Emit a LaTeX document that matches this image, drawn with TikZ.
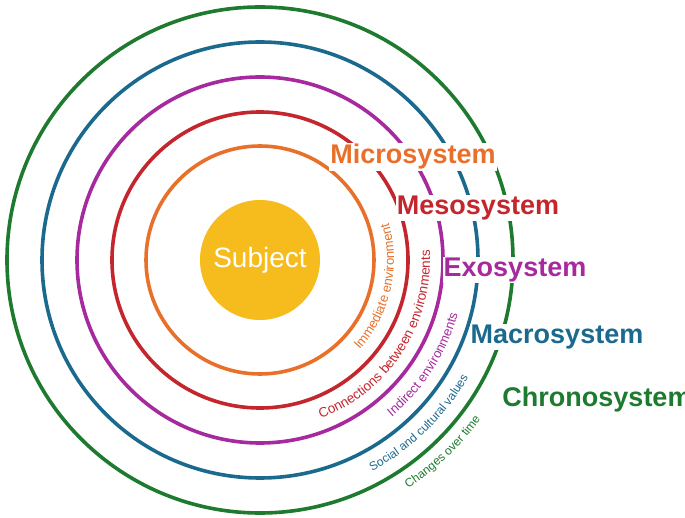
\documentclass[tikz,border=0pt]{standalone}
\usepackage{fontspec}
\setmainfont{Liberation Sans}
\setsansfont{Liberation Sans}
\usetikzlibrary{decorations.text,calc}
\definecolor{cor}{HTML}{E8702A}
\definecolor{cre}{HTML}{C4262E}
\definecolor{cpu}{HTML}{A62A9E}
\definecolor{cbl}{HTML}{1B6A8E}
\definecolor{cgr}{HTML}{1E7A2E}
\definecolor{cye}{HTML}{F6BC1E}
\tikzset{ring/.style={line width=3.6pt},
 lbl/.style={font=\fontsize{27}{30}\selectfont\bfseries,fill=white,inner sep=1pt},
 curv/.style={decorate,decoration={text along path,text align=left,raise=0pt}}}
\begin{document}
\begin{tikzpicture}[x=1pt,y=1pt]
\useasboundingbox (0,0) rectangle (685,-518);
\coordinate (c) at (260,-260);
\node[circle,fill=cye,minimum size=120pt,inner sep=0pt,text=white,font=\fontsize{28}{30}\selectfont] (subj) at (c) {Subject};
\draw[ring,cor] (c) circle[radius=114];
\draw[ring,cre] (c) circle[radius=148];
\draw[ring,cpu] (c) circle[radius=183];
\draw[ring,cbl] (c) circle[radius=218];
\draw[ring,cgr] (c) circle[radius=253];
\node[lbl,text=cor] (mic) at (413,-157) {Microsystem};
\node[lbl,text=cre] (mes) at (478,-208) {Mesosystem};
\node[lbl,text=cpu] (exo) at (515,-270) {Exosystem};
\node[lbl,text=cbl] (mac) at (557,-337) {Macrosystem};
\node[lbl,text=cgr] (chr) at (597,-400) {Chronosystem};
\path[curv,decoration={text={|\fontsize{13}{14}\selectfont\color{cor}|Immediate environment}}]
 ($(c)+(-42:134)$) arc[start angle=-42,end angle=40,radius=134];
\path[curv,decoration={text={|\fontsize{13.5}{14}\selectfont\color{cre}|Connections between environments}}]
 ($(c)+(-69:170)$) arc[start angle=-69,end angle=20,radius=170];
\path[curv,decoration={text={|\fontsize{13}{14}\selectfont\color{cpu}|Indirect environments}}]
 ($(c)+(-50:205)$) arc[start angle=-50,end angle=10,radius=205];
\path[curv,decoration={text={|\fontsize{12}{13}\selectfont\color{cbl}|Social and cultural values}}]
 ($(c)+(-62:239)$) arc[start angle=-62,end angle=0,radius=239];
\path[curv,decoration={text={|\fontsize{12}{13}\selectfont\color{cgr}|Changes over time}}]
 ($(c)+(-57:272)$) arc[start angle=-57,end angle=0,radius=272];
\end{tikzpicture}
\end{document}
